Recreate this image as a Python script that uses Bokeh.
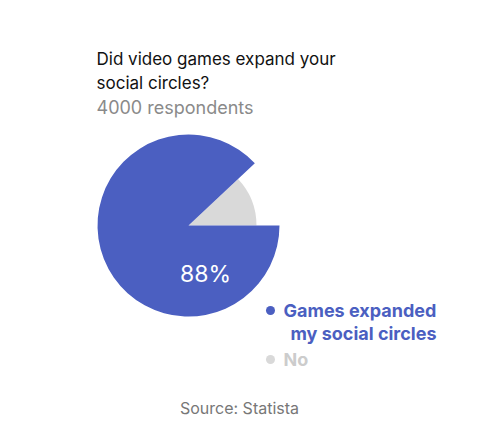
import math
from bokeh.plotting import figure
from bokeh.models import Range1d, Label
from bokeh.embed import file_html
from bokeh.resources import INLINE

categories = ["Games expanded\nmy social circles", "No"]
values = [88, 12]
colors = ["#4b5fc1", "#d9d9d9"]
legend_text_colors = ["#4b5fc1", "#cccccc"]
title_lines = ["Did video games expand your", "social circles?"]
subtitle = "4000 respondents"
source = "Source: Statista"

W, H = 478, 447
p = figure(width=W, height=H, output_backend="svg", toolbar_location=None,
           x_range=Range1d(0, W), y_range=Range1d(0, H), min_border=0)
p.axis.visible = False
p.grid.visible = False
p.outline_line_color = None
p.background_fill_color = "white"
p.border_fill_color = "white"

FONT = "Inter"
cx, cy = 188, H - 225
radii = [91, 68]
total = sum(values)
no_frac = values[1] / total
p.wedge(x=cx, y=cy, radius=radii[1], start_angle=0, end_angle=no_frac * 2 * math.pi,
        color=colors[1], line_color=None)
p.wedge(x=cx, y=cy, radius=radii[0], start_angle=no_frac * 2 * math.pi, end_angle=2 * math.pi,
        color=colors[0], line_color=None)

p.add_layout(Label(x=cx + 17, y=cy - 48, text=f"{values[0]}%", text_color="white",
                   text_font=FONT, text_font_size="23px", text_align="center",
                   text_baseline="middle"))

for i, t in enumerate(title_lines):
    p.add_layout(Label(x=96, y=H - 58 - i * 24, text=t, text_color="#111111",
                       text_font=FONT, text_font_size="17px", text_baseline="middle"))
p.add_layout(Label(x=96, y=H - 107, text=subtitle, text_color="#8a8a8a",
                   text_font=FONT, text_font_size="18px", text_baseline="middle"))

leg_y = [310, 359]
for i, cat in enumerate(categories):
    p.scatter(x=[270], y=[H - leg_y[i]], size=9, color=colors[i], line_color=None)
    for j, line in enumerate(cat.split("\n")):
        p.add_layout(Label(x=283 + (7 if j > 0 else 0), y=H - leg_y[i] - j * 23, text=line,
                           text_color=legend_text_colors[i], text_font=FONT,
                           text_font_size="18px", text_font_style="bold",
                           text_baseline="middle"))

p.add_layout(Label(x=239, y=H - 407, text=source, text_color="#777777",
                   text_font=FONT, text_font_size="16px", text_align="center",
                   text_baseline="middle"))

open("out.html", "w").write(file_html(p, INLINE))
